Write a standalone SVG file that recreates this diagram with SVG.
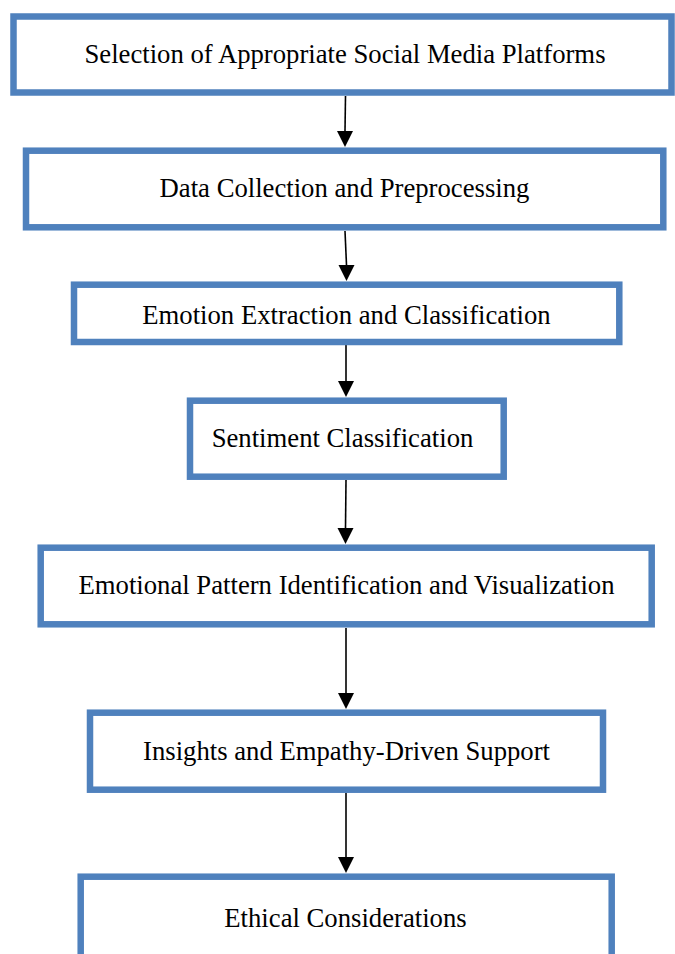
<svg xmlns="http://www.w3.org/2000/svg" width="675" height="954" viewBox="0 0 675 954">
<defs>
<style>
.box{fill:#FFFFFF;stroke:#4F81BD;stroke-width:6.5}
.lbl{font-family:"Liberation Serif","Times New Roman",serif;font-size:26.7px;fill:#000000;text-anchor:middle}
.conn{stroke:#000000;stroke-width:1.6;fill:none}
.head{fill:#000000}
</style>
</defs>
<rect width="675" height="954" fill="#FFFFFF"/>
<g id="connectors">
<path class="conn" d="M345.5,96 L345,131"/>
<path class="head" d="M337,131 L353,131 L345,147 Z"/>
<path class="conn" d="M345,231 L346.5,265"/>
<path class="head" d="M338.5,265 L354.5,265 L346.5,281 Z"/>
<path class="conn" d="M346,345 L346,381"/>
<path class="head" d="M338,381 L354,381 L346,397 Z"/>
<path class="conn" d="M346,480 L345.5,528"/>
<path class="head" d="M337.5,528 L353.5,528 L345.5,544 Z"/>
<path class="conn" d="M346,628 L346,693"/>
<path class="head" d="M338,693 L354,693 L346,709 Z"/>
<path class="conn" d="M346,793 L346,857"/>
<path class="head" d="M338,857 L354,857 L346,873 Z"/>
</g>
<g id="n1">
<rect class="box" x="13.5" y="16.5" width="658" height="76"/>
<text class="lbl" x="345" y="63">Selection of Appropriate Social Media Platforms</text>
</g>
<g id="n2">
<rect class="box" x="26" y="150.7" width="637.3" height="76.6"/>
<text class="lbl" x="344.5" y="197">Data Collection and Preprocessing</text>
</g>
<g id="n3">
<rect class="box" x="74" y="284.7" width="545.3" height="57.3"/>
<text class="lbl" x="346.5" y="324">Emotion Extraction and Classification</text>
</g>
<g id="n4">
<rect class="box" x="190" y="400.7" width="313.7" height="76"/>
<text class="lbl" x="342.5" y="447">Sentiment Classification</text>
</g>
<g id="n5">
<rect class="box" x="40.7" y="547.7" width="611" height="76.6"/>
<text class="lbl" x="346.5" y="594">Emotional Pattern Identification and Visualization</text>
</g>
<g id="n6">
<rect class="box" x="90" y="712.7" width="513" height="77"/>
<text class="lbl" x="346.5" y="760">Insights and Empathy-Driven Support</text>
</g>
<g id="n7">
<rect class="box" x="80.7" y="876.7" width="531" height="100"/>
<text class="lbl" x="345.5" y="927">Ethical Considerations</text>
</g>
</svg>
